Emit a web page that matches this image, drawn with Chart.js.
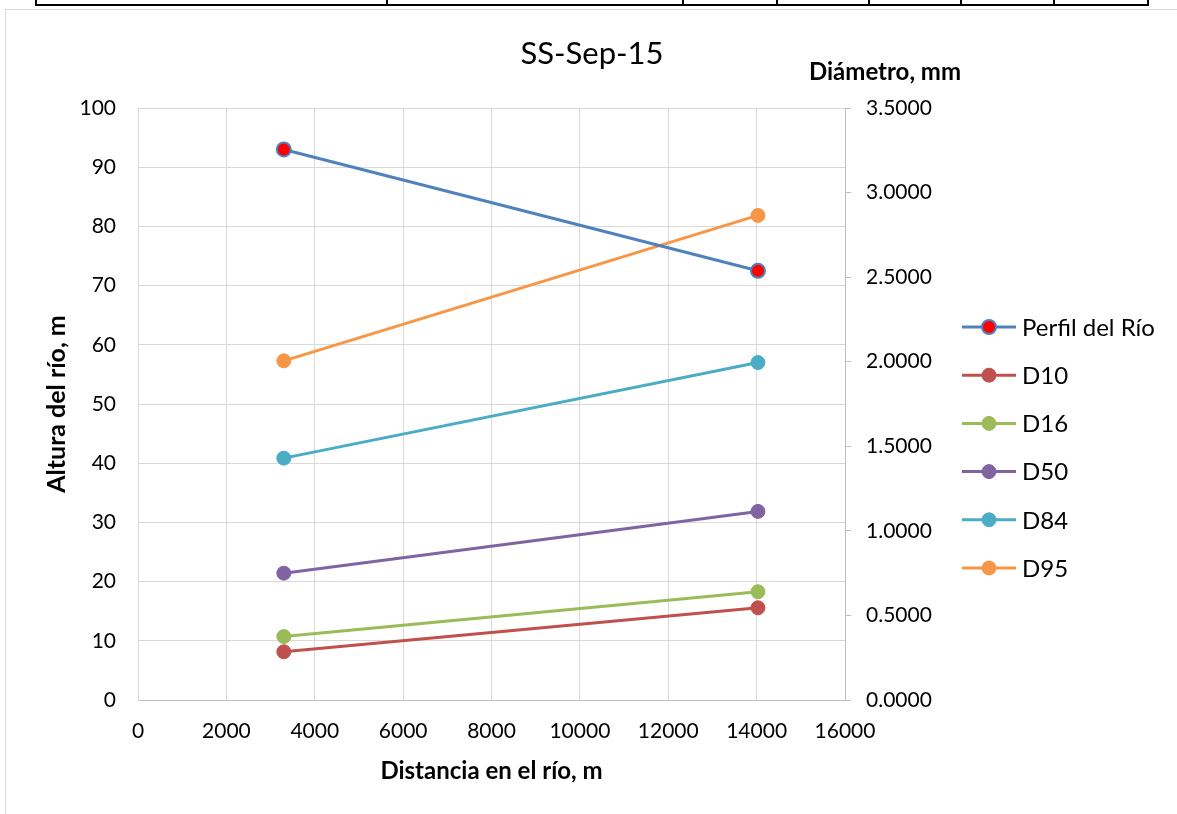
<!DOCTYPE html>
<html>
<head>
<meta charset="utf-8">
<script src="https://cdn.jsdelivr.net/npm/chart.js@4/dist/chart.umd.min.js"></script>
<style>
  body { margin: 0; background: #fff; }
  #wrap { position: relative; width: 1177px; height: 814px; overflow: hidden; }
  #tabla { position: absolute; left: 35px; top: -2px; width: 1110px; height: 6px; border: 2px solid #000; border-top: none; }
  #tabla div { position: absolute; top: 0; height: 6px; border-left: 2px solid #000; }
  #marco { position: absolute; left: 5px; top: 9px; width: 1200px; height: 900px; border: 1px solid #d9d9d9; }
  canvas { position: absolute; left: 0; top: 0; }
</style>
</head>
<body>
<div id="wrap">
  <div id="tabla">
    <div style="left:349px"></div>
    <div style="left:645px"></div>
    <div style="left:739px"></div>
    <div style="left:831px"></div>
    <div style="left:923px"></div>
    <div style="left:1016px"></div>
  </div>
  <div id="marco"></div>
  <canvas id="grafico" width="1177" height="814"></canvas>
</div>
<script>
// distancias en el río (m)
const distancias = [3300, 14030];
// altura del río (m), eje izquierdo
const perfil = [93.0, 72.5];
// diámetros (mm), eje derecho
const d10 = [0.285, 0.545];
const d16 = [0.375, 0.640];
const d50 = [0.750, 1.115];
const d84 = [1.430, 1.995];
const d95 = [2.005, 2.865];

const fuente = 'Lato, "Open Sans", sans-serif';

function puntos(valores) {
    return distancias.map((d, i) => ({ x: d, y: valores[i] }));
}

function serie(nombre, valores, color, eje, relleno) {
    return {
        label: nombre,
        data: puntos(valores),
        yAxisID: eje,
        borderColor: color,
        backgroundColor: relleno || color,
        pointBackgroundColor: relleno || color,
        pointBorderColor: color,
        pointBorderWidth: relleno ? 2 : 1,
        pointRadius: 7,
        borderWidth: 3,
        tension: 0
    };
}

// leyenda a la derecha, linea + circulo como en Excel, y textos sueltos
const leyenda = {
    id: 'leyenda',
    afterDraw(chart) {
        const ctx = chart.ctx;
        ctx.save();
        chart.data.datasets.forEach((ds, i) => {
            const y = 327 + i * 48.2;
            ctx.strokeStyle = ds.borderColor;
            ctx.lineWidth = 3;
            ctx.beginPath();
            ctx.moveTo(962, y);
            ctx.lineTo(1016, y);
            ctx.stroke();
            ctx.beginPath();
            ctx.arc(989, y, 7, 0, Math.PI * 2);
            ctx.fillStyle = ds.pointBackgroundColor;
            ctx.fill();
            ctx.lineWidth = ds.pointBorderWidth;
            ctx.strokeStyle = ds.borderColor;
            ctx.stroke();
            ctx.fillStyle = '#000';
            ctx.font = '24px ' + fuente;
            ctx.textBaseline = 'middle';
            ctx.textAlign = 'left';
            ctx.fillText(ds.label, 1022, y + 1);
        });
        ctx.textAlign = 'center';
        ctx.textBaseline = 'middle';
        // titulo del grafico
        ctx.font = '31px ' + fuente;
        ctx.fillText('SS-Sep-15', 592, 54);
        // titulo del eje derecho
        ctx.font = 'bold 24px ' + fuente;
        ctx.fillText('Diámetro, mm', 885, 72);
        ctx.restore();
    }
};

new Chart(document.getElementById('grafico').getContext('2d'), {
    type: 'line',
    data: {
        datasets: [
            serie('Perfil del Río', perfil, '#4F81BD', 'y', '#FF0000'),
            serie('D10', d10, '#C0504D', 'y1'),
            serie('D16', d16, '#9BBB59', 'y1'),
            serie('D50', d50, '#8064A2', 'y1'),
            serie('D84', d84, '#4BACC6', 'y1'),
            serie('D95', d95, '#F79646', 'y1')
        ]
    },
    options: {
        responsive: false,
        animation: false,
        layout: { padding: { left: 0, right: 232, top: 108, bottom: 0 } },
        plugins: {
            legend: { display: false },
            tooltip: { enabled: false },
            title: { display: false }
        },
        scales: {
            x: {
                type: 'linear',
                min: 0,
                max: 16000,
                ticks: {
                    stepSize: 2000,
                    color: '#000',
                    padding: 19,
                    font: { family: fuente, size: 21 },
                    callback: v => String(v)
                },
                grid: { color: '#D9D9D9', drawTicks: false },
                border: { color: '#BFBFBF' },
                title: {
                    display: true,
                    text: 'Distancia en el río, m',
                    color: '#000',
                    font: { family: fuente, size: 24, weight: 'bold' },
                    padding: { top: 0, bottom: 28 }
                },
                afterFit: s => { s.height = 114; }
            },
            y: {
                position: 'left',
                min: 0,
                max: 100,
                ticks: { stepSize: 10, color: '#000', padding: 22, font: { family: fuente, size: 21 } },
                grid: { color: '#D9D9D9', drawTicks: false },
                border: { color: '#D9D9D9' },
                title: {
                    display: true,
                    text: 'Altura del río, m',
                    color: '#000',
                    font: { family: fuente, size: 25, weight: 'bold' },
                    padding: { top: 42, bottom: 0 }
                },
                afterFit: s => { s.width = 138; }
            },
            y1: {
                position: 'right',
                min: 0,
                max: 3.5,
                ticks: {
                    stepSize: 0.5,
                    color: '#000',
                    padding: 15,
                    font: { family: fuente, size: 21 },
                    callback: v => v.toFixed(4)
                },
                grid: { drawOnChartArea: false, color: '#BFBFBF', tickLength: 6 },
                border: { color: '#BFBFBF' },
                afterFit: s => { s.width = 100; }
            }
        }
    },
    plugins: [leyenda]
});
</script>
</body>
</html>
